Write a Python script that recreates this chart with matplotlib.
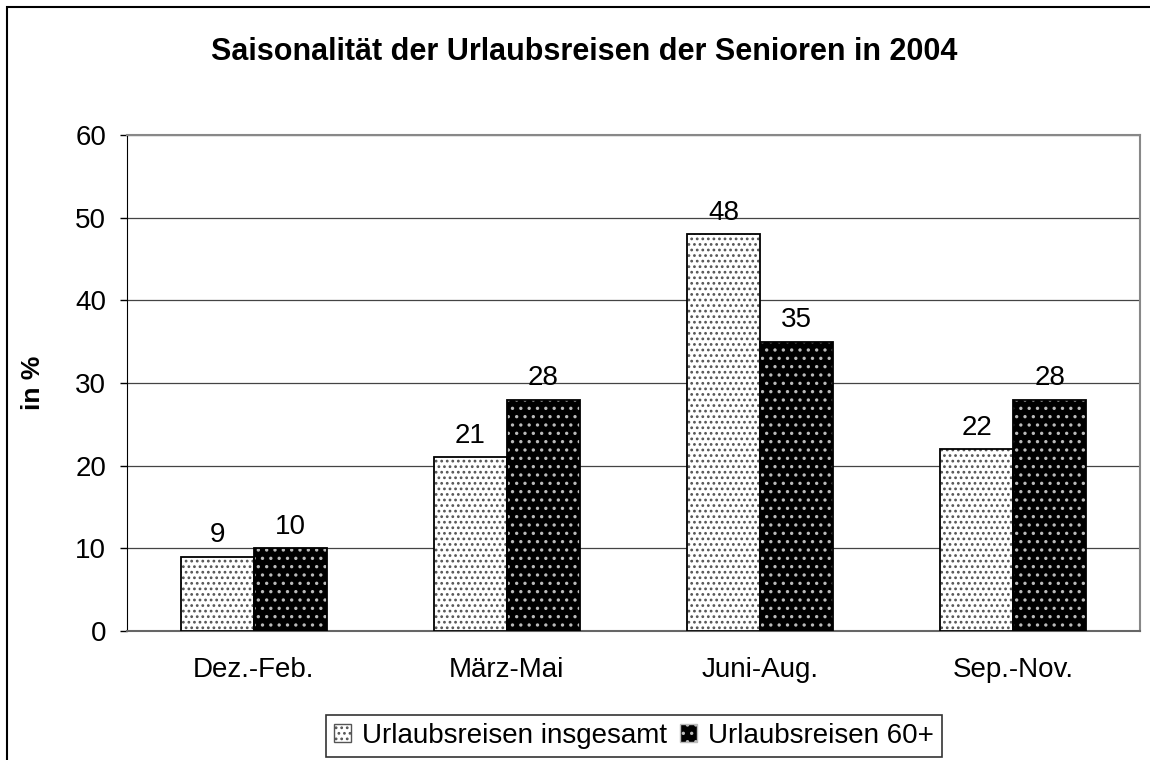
import numpy as np
import matplotlib
matplotlib.use("Agg")
import matplotlib.pyplot as plt
from matplotlib.patches import Rectangle, Patch

plt.rcParams['font.family'] = ['Liberation Sans', 'DejaVu Sans']
plt.rcParams['hatch.linewidth'] = 1.2

categories = ["Dez.-Feb.", "März-Mai", "Juni-Aug.", "Sep.-Nov."]
insgesamt = [9, 21, 48, 22]
senioren = [10, 28, 35, 28]
series_names = ["Urlaubsreisen insgesamt", "Urlaubsreisen 60+"]
title = "Saisonalität der Urlaubsreisen der Senioren in 2004"

W, H = 1150, 760
fig = plt.figure(figsize=(W / 100, H / 100), dpi=100)
ax = fig.add_axes([127 / W, 1 - 631 / H, (1140 - 127) / W, (631 - 135) / H])

x = np.arange(len(categories))
bw = 0.288

# light bars: white with black dots
ax.bar(x - bw / 2, insgesamt, bw, color="white", edgecolor="#555555",
       hatch="...", linewidth=0, zorder=3)
ax.bar(x - bw / 2, insgesamt, bw, fill=False, edgecolor="black",
       linewidth=1.3, zorder=4)
# dark bars: black with light marks
ax.bar(x + bw / 2, senioren, bw, color="black", edgecolor="#bbbbbb",
       hatch="..", linewidth=0, zorder=3)
ax.bar(x + bw / 2, senioren, bw, fill=False, edgecolor="black",
       linewidth=1.3, zorder=4)

for xi, v in zip(x - bw / 2, insgesamt):
    ax.annotate(str(v), (xi, v), xytext=(0, 6), textcoords="offset points",
                ha="center", va="bottom", fontsize=20)
for xi, v in zip(x + bw / 2, senioren):
    ax.annotate(str(v), (xi, v), xytext=(0, 6), textcoords="offset points",
                ha="center", va="bottom", fontsize=20)

ax.set_xlim(-0.5, len(categories) - 0.5)
ax.set_ylim(0, 60)
ax.set_yticks(range(0, 61, 10))
ax.set_xticks(x)
ax.set_xticklabels(categories)
ax.tick_params(axis="y", labelsize=20, length=5, width=1, direction="out", pad=10)
ax.tick_params(axis="x", labelsize=20, length=0, pad=19)
ax.yaxis.grid(True, color="#444444", linewidth=0.9, zorder=0)
ax.set_axisbelow(True)
for s in ["top", "right"]:
    ax.spines[s].set_color("#888888")
    ax.spines[s].set_linewidth(1.5)
ax.spines["left"].set_color("black")
ax.spines["bottom"].set_color("#666666")
ax.spines["bottom"].set_linewidth(1.5)

ax.set_ylabel("in %", fontsize=19, fontweight="bold")
ax.yaxis.set_label_coords((45 - 127) / (1140 - 127), 0.5)
fig.text(584 / W, 1 - 52 / H, title, ha="center", va="center",
         fontsize=22, fontweight="bold")

handles = [Patch(facecolor="white", edgecolor="#555555", hatch="..."),
           Patch(facecolor="black", edgecolor="#bbbbbb", hatch="..")]
leg = fig.legend(handles, series_names, loc="center", ncol=2,
                 bbox_to_anchor=(634 / W, 1 - 736 / H), fontsize=20,
                 frameon=True, fancybox=False, handlelength=0.62,
                 handleheight=0.62, handletextpad=0.4, columnspacing=0.45,
                 borderpad=0.3, borderaxespad=0)
leg.get_frame().set_edgecolor("black")
leg.get_frame().set_linewidth(1.2)

# outer chart border
fig.patches.append(Rectangle((7 / W, -0.1), 1.2, 1 - 7 / H + 0.1,
                             transform=fig.transFigure, fill=False,
                             edgecolor="black", linewidth=1.5))

fig.savefig("out.png", dpi=100, facecolor="white")
